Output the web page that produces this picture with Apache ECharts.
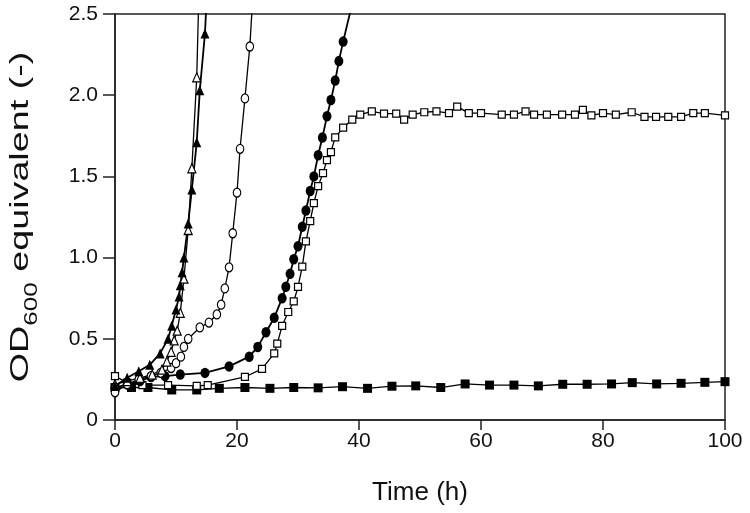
<!DOCTYPE html>
<html><head><meta charset="utf-8">
<script src="https://cdn.jsdelivr.net/npm/echarts@6/dist/echarts.min.js"></script>
<style>html,body{margin:0;padding:0;background:#fff}#c{width:750px;height:513px}</style>
</head><body><div id="c"></div>
<script>
// Filled triangles
var triFilledX = [0, 2.0, 3.9, 5.7, 7.4, 8.7, 9.3, 10.0, 10.5, 10.7, 11.0, 11.3, 12.0, 12.6, 13.4, 13.9, 14.75, 15.0];
var triFilledY = [0.21, 0.26, 0.30, 0.34, 0.41, 0.50, 0.58, 0.68, 0.76, 0.83, 0.91, 1.00, 1.21, 1.42, 1.71, 2.03, 2.38, 2.58];
// Open triangles
var triOpenX = [0, 2.0, 4.1, 6.1, 7.7, 8.5, 9.2, 9.7, 10.2, 10.7, 11.3, 12.0, 12.6, 13.4, 13.8];
var triOpenY = [0.22, 0.24, 0.26, 0.28, 0.31, 0.36, 0.42, 0.49, 0.55, 0.66, 0.87, 1.17, 1.55, 2.11, 2.70];
// Open circles
var circOpenX = [0, 2.0, 3.9, 5.9, 7.5, 9.2, 10.0, 10.8, 11.3, 12.0, 13.9, 15.4, 16.7, 17.4, 18.0, 18.7, 19.3, 20.0, 20.5, 21.3, 22.1, 22.5];
var circOpenY = [0.17, 0.22, 0.25, 0.27, 0.29, 0.32, 0.35, 0.39, 0.45, 0.50, 0.57, 0.60, 0.65, 0.71, 0.81, 0.94, 1.15, 1.40, 1.67, 1.98, 2.30, 2.55];
// Filled circles
var circFilledX = [0, 2.0, 4.1, 5.9, 8.2, 10.7, 14.75, 18.7, 22.0, 23.4, 24.75, 26.1, 27.4, 28.0, 28.7, 29.3, 30.0, 30.7, 31.3, 32.0, 32.6, 33.3, 34.0, 34.75, 35.4, 36.1, 36.7, 37.4, 38.8];
var circFilledY = [0.20, 0.22, 0.24, 0.265, 0.27, 0.28, 0.29, 0.33, 0.39, 0.45, 0.54, 0.63, 0.75, 0.82, 0.90, 0.99, 1.07, 1.19, 1.29, 1.41, 1.50, 1.63, 1.74, 1.87, 1.97, 2.09, 2.21, 2.33, 2.55];
// Open squares
var sqOpenX = [0, 2.0, 4.5, 8.7, 13.4, 15.2, 21.3, 24.1, 26.1, 26.6, 27.4, 28.4, 29.3, 30.0, 30.7, 31.3, 32.0, 32.6, 33.3, 34.1, 34.75, 35.4, 36.1, 37.4, 38.9, 40.2,
  42.1, 44.1, 46.1, 47.4, 48.8, 50.7, 52.7, 54.75, 56.1, 58.0, 60.0, 63.4, 65.4, 67.3, 68.7, 70.8, 73.3, 75.4, 76.7, 78.1, 80.0, 82.1, 84.7, 86.8, 88.7, 90.7, 92.8, 94.8, 96.7, 100.0];
var sqOpenY = [0.27, 0.23, 0.215, 0.215, 0.21, 0.215, 0.265, 0.315, 0.41, 0.47, 0.58, 0.665, 0.73, 0.82, 0.945, 1.10, 1.225, 1.335, 1.44, 1.52, 1.60, 1.65, 1.74, 1.80, 1.85, 1.88,
  1.90, 1.886, 1.886, 1.85, 1.88, 1.895, 1.90, 1.89, 1.93, 1.89, 1.89, 1.88, 1.88, 1.90, 1.88, 1.88, 1.88, 1.88, 1.91, 1.876, 1.89, 1.88, 1.895, 1.867, 1.867, 1.867, 1.867, 1.89, 1.89, 1.876];
// Filled squares
var sqFilledX = [0, 2.7, 5.4, 9.3, 13.4, 17.1, 21.3, 25.4, 29.3, 33.3, 37.3, 41.4, 45.4, 49.3, 53.4, 57.4, 61.4, 65.4, 69.4, 73.4, 77.4, 81.4, 84.8, 88.8, 92.8, 96.7, 100.0];
var sqFilledY = [0.20, 0.20, 0.20, 0.185, 0.185, 0.195, 0.20, 0.195, 0.20, 0.198, 0.205, 0.195, 0.208, 0.21, 0.20, 0.222, 0.215, 0.215, 0.21, 0.22, 0.22, 0.222, 0.23, 0.222, 0.226, 0.232, 0.236];

var xTicks = [0, 20, 40, 60, 80, 100];
var yTicks = ['0', '0.5', '1.0', '1.5', '2.0', '2.5'];
var xTitle = 'Time (h)';
var yTitleParts = ['OD', '600', ' equivalent (-)'];

function pairs(xs, ys) { return xs.map(function (x, i) { return [x, ys[i]]; }); }
var FONT = 'Liberation Sans';

function mk(name, xs, ys, symbol, size, filled, lw) {
  return {
    type: 'line', name: name, data: pairs(xs, ys), symbol: symbol, symbolSize: size,
    clip: true, animation: false,
    lineStyle: { color: '#000', width: lw },
    itemStyle: { color: filled ? '#000' : '#fff', borderColor: '#000', borderWidth: filled ? 0 : 1.2 }
  };
}

var chart = echarts.init(document.getElementById('c'), null, { renderer: 'canvas' });
chart.setOption({
  backgroundColor: '#fff',
  grid: { left: 115, right: 25, top: 14, bottom: 93, show: true, borderColor: '#222', borderWidth: 1.5, backgroundColor: 'transparent' },
  xAxis: {
    type: 'value', min: 0, max: 100, interval: 20,
    name: xTitle, nameLocation: 'middle', nameGap: 60,
    nameTextStyle: { fontFamily: FONT, fontSize: 26, color: '#111' },
    axisLine: { show: true, onZero: false, lineStyle: { color: '#222', width: 1.5 } },
    axisTick: { show: true, inside: false, length: 10, lineStyle: { color: '#222', width: 1.5 } },
    axisLabel: { fontFamily: FONT, fontSize: 21, color: '#111', margin: 11,
      formatter: function (v) { return xTicks.indexOf(v) >= 0 ? String(v) : ''; } },
    splitLine: { show: false }
  },
  yAxis: {
    type: 'value', min: 0, max: 2.5, interval: 0.5,
    axisLine: { show: true, lineStyle: { color: '#222', width: 1.5 } },
    axisTick: { show: true, inside: false, length: 12, lineStyle: { color: '#222', width: 1.5 } },
    axisLabel: { fontFamily: FONT, fontSize: 21, color: '#111', margin: 17,
      formatter: function (v) { return yTicks[Math.round(v / 0.5)]; } },
    splitLine: { show: false }
  },
  graphic: [{
    type: 'text', x: 18, y: 217, rotation: Math.PI / 2, scaleX: 1.45, silent: true,
    style: {
      text: '{a|' + yTitleParts[0] + '}{b|' + yTitleParts[1] + '}{a|' + yTitleParts[2] + '}',
      align: 'center', verticalAlign: 'middle', fill: '#111',
      rich: {
        a: { fontFamily: FONT, fontSize: 26, fill: '#111', lineHeight: 32, verticalAlign: 'bottom' },
        b: { fontFamily: FONT, fontSize: 18, fill: '#111', lineHeight: 32, verticalAlign: 'bottom', padding: [0, 0, -7, 0] }
      }
    }
  }],
  series: [
    mk('sqFilled', sqFilledX, sqFilledY, 'rect', [9, 9], true, 1.3),
    mk('sqOpen', sqOpenX, sqOpenY, 'rect', [7, 7], false, 1.3),
    mk('circFilled', circFilledX, circFilledY, 'circle', [9, 10.5], true, 1.8),
    mk('circOpen', circOpenX, circOpenY, 'circle', [7.5, 9], false, 1.3),
    mk('triOpen', triOpenX, triOpenY, 'triangle', [8, 9], false, 1.3),
    mk('triFilled', triFilledX, triFilledY, 'triangle', [9, 10], true, 1.8)
  ]
});
</script></body></html>
